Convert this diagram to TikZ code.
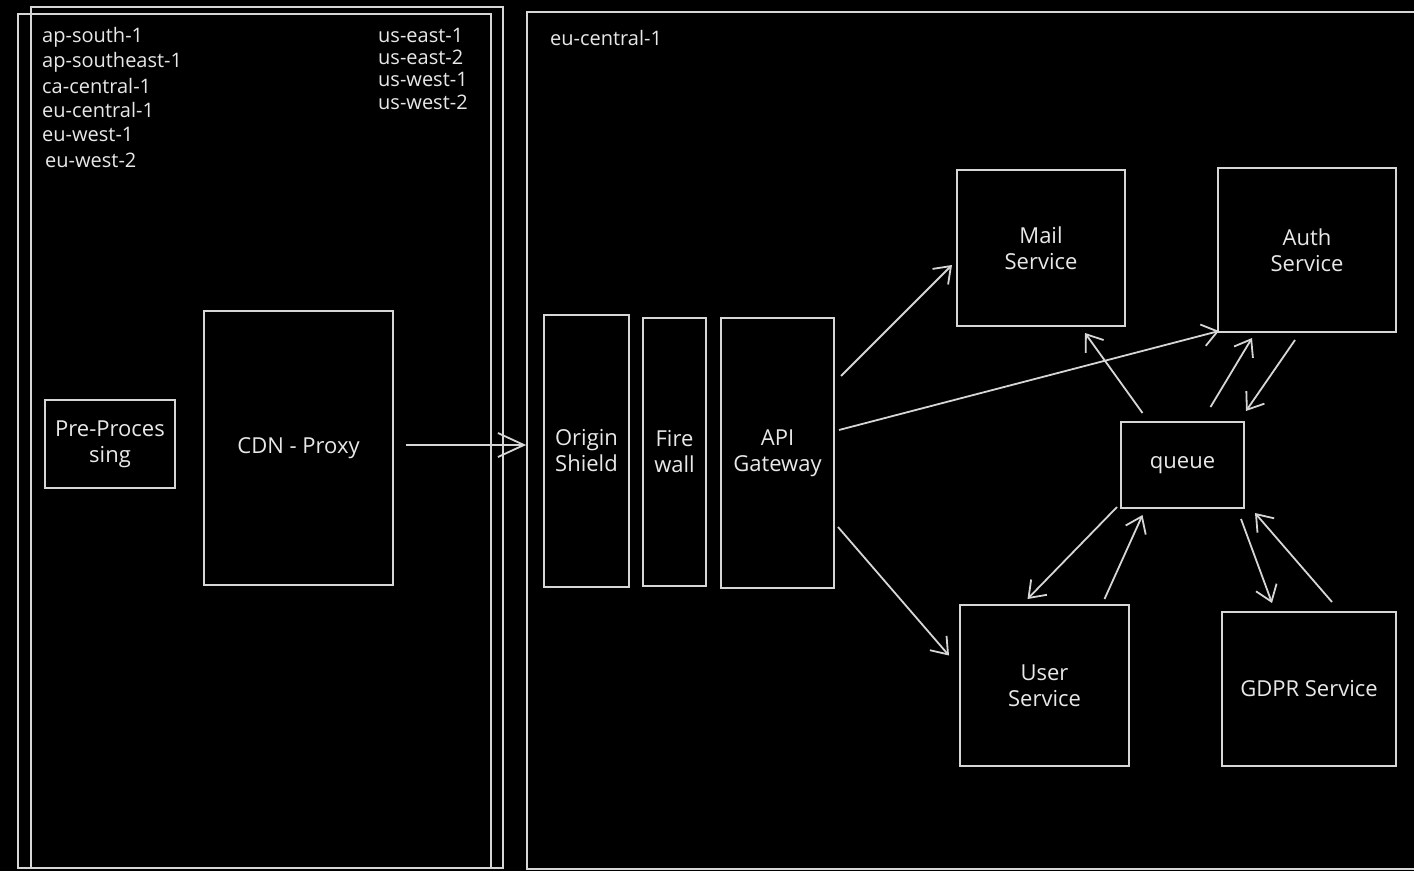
\documentclass[tikz,border=0pt]{standalone}
\usepackage{fontspec}
\setmainfont{Open Sans}
\usetikzlibrary{arrows.meta,calc}
\definecolor{ink}{HTML}{D6D6D6}
\definecolor{txt}{HTML}{E8E8E8}
\begin{document}
\begin{tikzpicture}[x=1pt,y=-1pt,
  box/.style={draw=ink,line width=2pt,inner sep=0pt,align=center,text=txt,font=\fontsize{22}{26}\selectfont},
  region/.style={draw=ink,line width=1.8pt,inner sep=0pt},
  lab/.style={anchor=west,text=txt,inner sep=0pt,font=\fontsize{20}{24}\selectfont},
  arr/.style={draw=ink,line width=1.8pt,-{Straight Barb[length=15pt,width=22pt]}}]
\fill[black] (0,0) rectangle (1414,871);
\clip (0,0) rectangle (1414,871);
% regions
\node[region,minimum width=473,minimum height=854] (rA) at (254.5,441) {};
\node[region,minimum width=472,minimum height=861] (rB) at (267,437.5) {};
\node[region,minimum width=893,minimum height=857] (eu) at (973.5,440.5) {};
% region labels
\node[lab] (l1) at (42,37) {ap-south-1};
\node[lab] (l2) at (42,62) {ap-southeast-1};
\node[lab] (l3) at (42,86) {ca-central-1};
\node[lab] (l4) at (42,110) {eu-central-1};
\node[lab] (l5) at (42,134) {eu-west-1};
\node[lab] (l6) at (45,160) {eu-west-2};
\node[lab] (r1) at (378,35) {us-east-1};
\node[lab] (r2) at (378,57) {us-east-2};
\node[lab] (r3) at (378,79) {us-west-1};
\node[lab] (r4) at (378,102) {us-west-2};
\node[lab] (eul) at (550,38) {eu-central-1};
% boxes
\node[box,minimum width=130,minimum height=88] (pre) at (110,444) {Pre-Proces\\sing};
\node[box,minimum width=189,minimum height=274] (cdn) at (298.5,448) {CDN - Proxy};
\node[box,minimum width=85,minimum height=272] (os) at (586.5,451) {Origin\\Shield};
\node[box,minimum width=63,minimum height=268] (fw) at (674.5,452) {Fire\\wall};
\node[box,minimum width=113,minimum height=270] (api) at (777.5,453) {API\\Gateway};
\node[box,minimum width=168,minimum height=156] (mail) at (1041,248) {Mail\\Service};
\node[box,minimum width=178,minimum height=164] (auth) at (1307,250) {Auth\\Service};
\node[box,minimum width=123,minimum height=86] (queue) at (1182.5,465) {queue};
\node[box,minimum width=169,minimum height=161] (user) at (1044.5,685.5) {User\\Service};
\node[box,minimum width=174,minimum height=154] (gdpr) at (1309,689) {GDPR Service};
% connectors
\draw[draw=ink,line width=1.8pt,-{Straight Barb[length=26pt,width=24pt]}] ($(cdn.east)+(12,-3)$) -- ($(eu.west)+(0,4.5)$);
\draw[arr] ($(api.east)+(6,-77)$) -- ($(mail.west)+(-4,17)$);
\draw[arr] ($(api.east)+(4,-23)$) -- ($(auth.south west)+(2,-2)$);
\draw[arr] ($(api.east)+(3,74)$) -- ($(user.west)+(-10,-30)$);
\draw[arr] ($(queue.north)+(-40,-8)$) -- ($(mail.south)+(44,6)$);
\draw[arr] ($(queue.north)+(28,-14)$) -- ($(auth.south)+(-55,5)$);
\draw[arr] ($(auth.south)+(-12,7)$) -- ($(queue.north east)+(1,-10)$);
\draw[arr] ($(queue.south west)+(-3,-2)$) -- ($(user.north)+(-17,-5)$);
\draw[arr] ($(user.north)+(60,-5)$) -- ($(queue.south)+(-40,6)$);
\draw[arr] ($(queue.south east)+(-4,10)$) -- ($(gdpr.north)+(-37,-8)$);
\draw[arr] ($(gdpr.north)+(23,-9)$) -- ($(queue.south east)+(10,4)$);
\end{tikzpicture}
\end{document}
